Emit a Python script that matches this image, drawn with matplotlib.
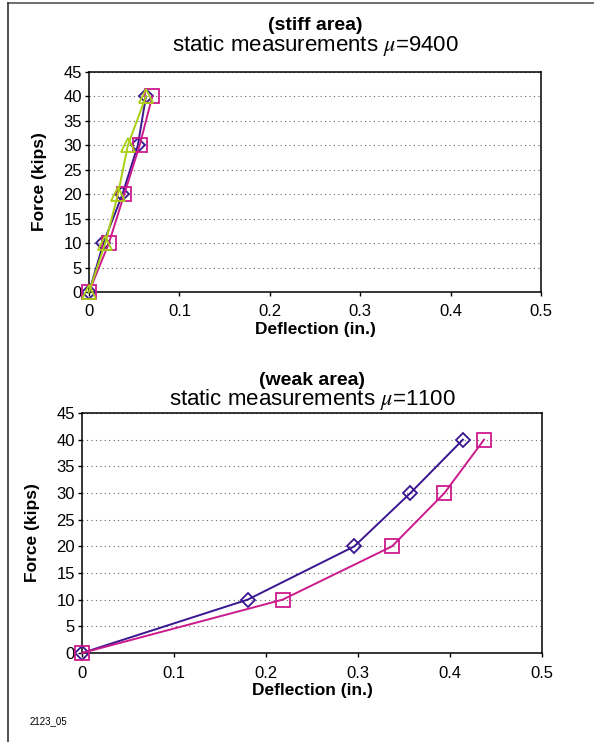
import matplotlib
matplotlib.use("Agg")
import matplotlib.pyplot as plt
from matplotlib.lines import Line2D

plt.rcParams['font.family'] = ['Liberation Sans', 'DejaVu Sans']
plt.rcParams['mathtext.fontset'] = 'stix'

# stiff area data (force in kips, deflection in inches)
force = [0, 10, 20, 30, 40]
stiff_diamond = [0, 0.016, 0.037, 0.054, 0.063]
stiff_square = [0, 0.022, 0.039, 0.056, 0.070]
stiff_triangle = [0, 0.018, 0.032, 0.043, 0.063]

# weak area data
weak_diamond = [0, 0.180, 0.296, 0.357, 0.414]
weak_square = [0, 0.218, 0.337, 0.394, 0.437]

C_DIAMOND = '#3a1590'
C_SQUARE = '#cc1a8c'
C_TRIANGLE = '#a8d010'

fig = plt.figure(figsize=(5.94, 7.42), dpi=100)

# outer frame (top and left only)
fig.add_artist(Line2D([8/594, 1], [1 - 3/742, 1 - 3/742], color='#555555', lw=1.2))
fig.add_artist(Line2D([8/594, 8/594], [0, 1 - 3/742], color='#333333', lw=1.2))


def style_axes(ax, title1, title2, y1, y2):
    ax.set_xlim(0, 0.5)
    ax.set_ylim(0, 45)
    ax.set_xticks([0, 0.1, 0.2, 0.3, 0.4, 0.5])
    ax.set_xticklabels(['0', '0.1', '0.2', '0.3', '0.4', '0.5'])
    ax.set_yticks(range(0, 50, 5))
    ax.tick_params(direction='out', length=3, width=1, labelsize=12)
    ax.tick_params(axis='x', pad=6)
    ax.tick_params(axis='y', pad=2)
    ax.yaxis.grid(True, linestyle=(0, (1, 3)), color='#666666', lw=0.8)
    ax.set_axisbelow(True)
    for s in ax.spines.values():
        s.set_linewidth(1.1)
    ax.set_xlabel('Deflection (in.)', fontsize=12.5, fontweight='bold', labelpad=2)
    ax.set_ylabel('Force (kips)', fontsize=12.5, fontweight='bold', labelpad=12)
    cx = (ax.get_position().x0 + ax.get_position().x1) / 2
    fig.text(cx, 1 - y1/742, title1, ha='center', va='center',
             fontsize=14, fontweight='bold')
    fig.text(cx, 1 - y2/742, title2, ha='center', va='center', fontsize=16)


mk = dict(markerfacecolor='none', clip_on=False, lw=1.4, zorder=3)

ax1 = fig.add_axes([89/594, 1 - 292/742, 452/594, 220/742])
ax1.plot(stiff_diamond, force, color=C_DIAMOND, marker='D', markersize=7, mew=1.3, **mk)
ax1.plot(stiff_square, force, color=C_SQUARE, marker='s', markersize=10, mew=1.3, **mk)
ax1.plot(stiff_triangle, force, color=C_TRIANGLE, marker='^', markersize=10, mew=1.3, **mk)
style_axes(ax1, '(stiff area)', r'static measurements $\mu$=9400', 25, 45)

ax2 = fig.add_axes([82/594, 1 - 653/742, 460/594, 240/742])
ax2.plot(weak_diamond, force, color=C_DIAMOND, marker='D', markersize=7, mew=1.3, **mk)
ax2.plot(weak_square, force, color=C_SQUARE, marker='s', markersize=10, mew=1.3, **mk)
style_axes(ax2, '(weak area)', r'static measurements $\mu$=1100', 380, 400)

fig.text(30/594, 1 - 721/742, '2123_05', fontsize=7, va='center')

fig.savefig('out.png', dpi=100)
